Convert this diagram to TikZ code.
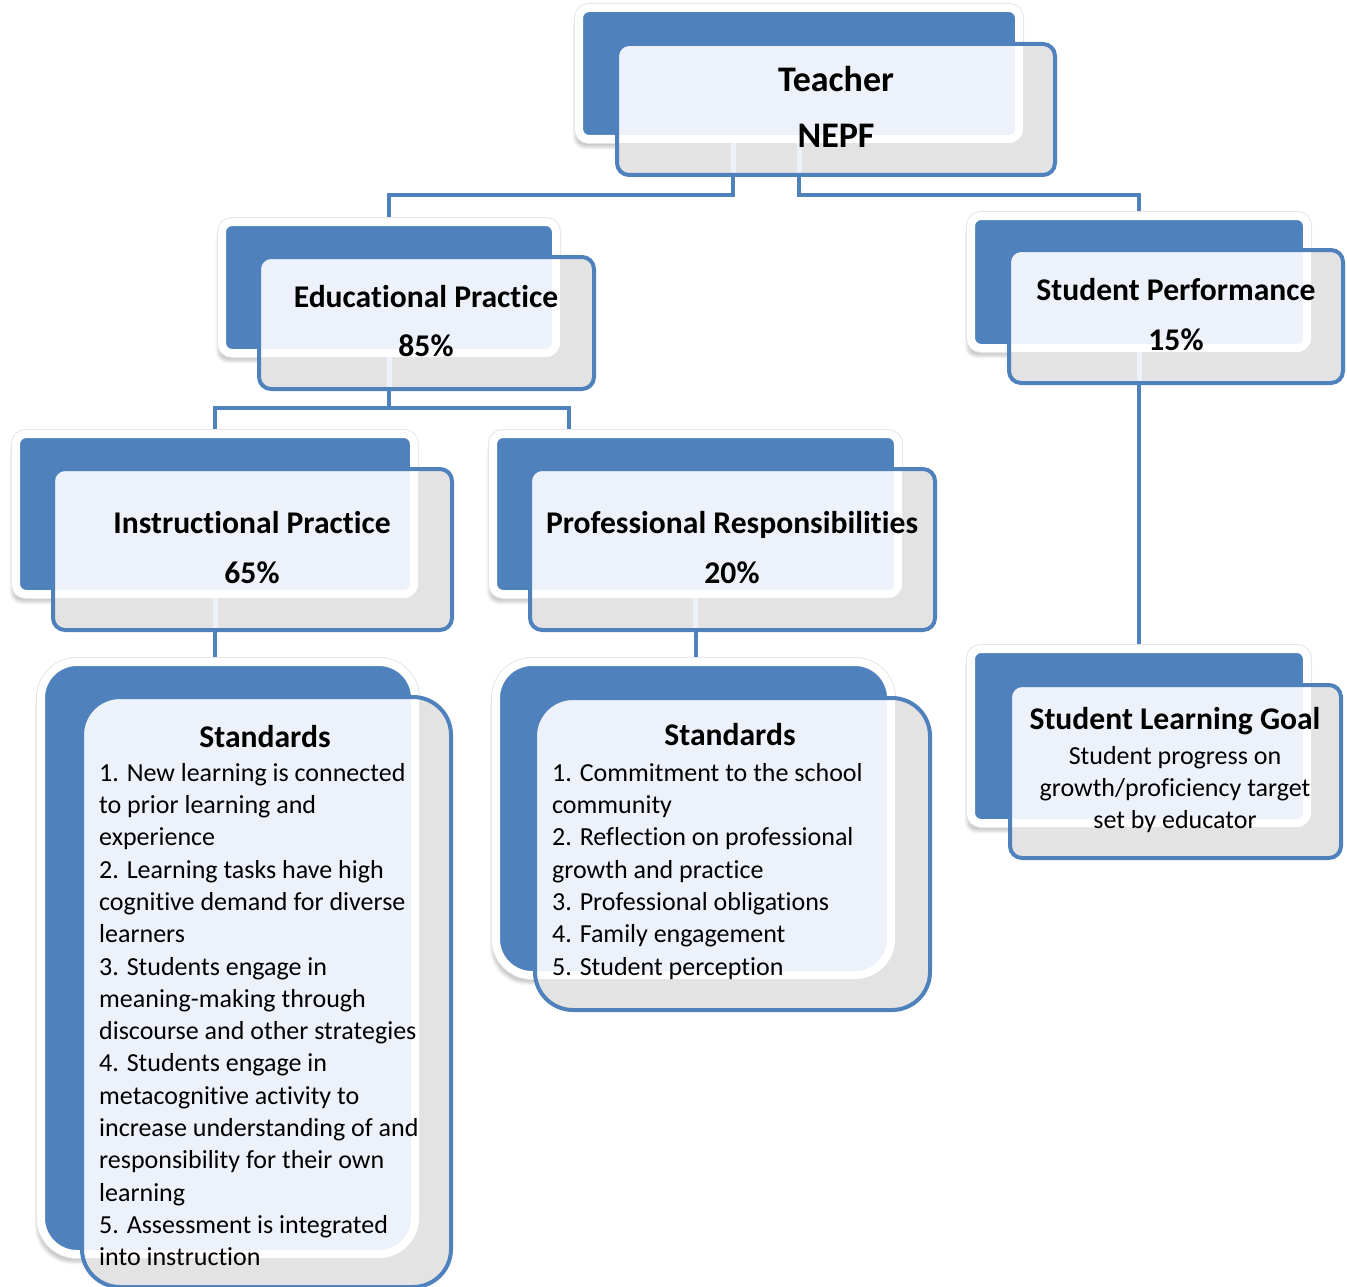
\documentclass[tikz,border=0pt]{standalone}
\usepackage{fontspec}
\setmainfont{Carlito}[Ligatures={NoCommon}]
\usetikzlibrary{shadows,shadows.blur,fit,calc}
\definecolor{nblue}{HTML}{4F81BD}
\definecolor{ngray}{HTML}{E3E3E3}
\definecolor{nlight}{HTML}{EDF1F9}
\pgfdeclarelayer{bg}
\pgfsetlayers{bg,main}
\tikzset{
 backbox/.style={fill=nblue, inner sep=0pt, outer sep=0pt,
   blur shadow={shadow xshift=-4pt, shadow yshift=-8pt, shadow blur radius=3pt, shadow opacity=22},
   preaction={draw=black!10, line width=10pt},
   draw=white, line width=8pt},
 frontfill/.style={fill=ngray, inner sep=0pt, outer sep=0pt},
 frontline/.style={draw=nblue, line width=4pt},
 conn/.style={draw=nblue, line width=4pt},
 ghost/.style={draw=nlight, line width=5pt},
 ttl/.style={font=\fontsize{31.6}{38}\selectfont\bfseries, anchor=base, inner sep=0pt},
 bigttl/.style={font=\fontsize{36}{42}\selectfont\bfseries, anchor=base, inner sep=0pt},
 bodytxt/.style={font=\fontsize{26}{32.3}\selectfont, align=left, anchor=north west, inner sep=0pt},
 bodyctr/.style={font=\fontsize{26}{32.3}\selectfont, align=center, anchor=north, inner sep=0pt},
}
\def\rb{10}
\def\rf{12}
% #1 name, #2-#5 back centre line, #6-#9 front centre line
\newcommand\twobox[9]{%
 \node[backbox, rounded corners=\rb pt, fit={(#2,#3) (#4,#5)}] (#1B) {};
 \node[frontfill, rounded corners=\rf pt, fit={(#6,#7) (#8,#9)}] (#1F) {};
 \begin{scope}
  \clip[rounded corners=\rf pt] (#6,#7) rectangle (#8,#9);
  \fill[white, rounded corners=\rb pt+4pt] (#2-4,#3-4) rectangle (#4+4,#5+4);
  \fill[nlight, rounded corners=\rb pt-4pt] (#2+4,#3+4) rectangle (#4-4,#5-4);
 \end{scope}
}
\newcommand\frontborder[4]{%
 \draw[frontline, rounded corners=\rf pt] (#1,#2) rectangle (#3,#4);
}
\begin{document}
\begin{tikzpicture}[x=1pt,y=-1pt]
\useasboundingbox (0,0) rectangle (1347,1287);

% small boxes
\twobox{t}{579}{8}{1019}{139}{617}{44}{1055}{175}
\twobox{e}{222}{222}{556}{353}{259}{257}{594}{389}
\twobox{s}{971}{216}{1307}{348}{1009}{250}{1343}{383}
\twobox{i}{16}{434}{414}{594}{53}{469}{452}{630}
\twobox{p}{493}{434}{898}{594}{530}{469}{935}{630}
\twobox{g}{971}{649}{1307}{823}{1010}{685}{1341}{858}
% standards boxes
\def\rb{36}\def\rf{38}
\twobox{sl}{41}{662}{415}{1254}{82}{697}{451}{1287}
\twobox{sm}{496}{662}{891}{975}{535}{698}{930}{1010}

% connectors
\coordinate (tl) at (733,139);
\coordinate (pr) at (569,434);
\begin{pgfonlayer}{bg}
\draw[conn] (tl) -- ++(0,56) -| (eB.north);
\draw[conn] (tB.south) -- ++(0,56) -| (sB.north);
\draw[conn] (eB.south) -- ++(0,55) -| (iB.north);
\draw[conn] (eB.south) -- ++(0,55) -| (pr);
\draw[conn] (iB.south) -- (iB.south |- slB.north);
\draw[conn] (pB.south) -- (pB.south |- smB.north);
\draw[conn] (sB.south) -- (sB.south |- gB.north);
\end{pgfonlayer}

% connectors seen through the front boxes
\draw[ghost] ([yshift=-4pt]tl) -- ([yshift=2pt]tl |- tF.south);
\draw[ghost] ([yshift=-4pt]tB.south) -- ([yshift=2pt]tB.south |- tF.south);
\draw[ghost] ([yshift=-4pt]eB.south) -- ([yshift=2pt]eB.south |- eF.south);
\draw[ghost] ([yshift=-4pt]sB.south) -- ([yshift=2pt]sB.south |- sF.south);
\draw[ghost] ([yshift=-4pt]iB.south) -- ([yshift=2pt]iB.south |- iF.south);
\draw[ghost] ([yshift=-4pt]pB.south) -- ([yshift=2pt]pB.south |- pF.south);

% front borders
\def\rf{12}
\frontborder{617}{44}{1055}{175}
\frontborder{259}{257}{594}{389}
\frontborder{1009}{250}{1343}{383}
\frontborder{53}{469}{452}{630}
\frontborder{530}{469}{935}{630}
\frontborder{1010}{685}{1341}{858}
\def\rf{38}
\frontborder{82}{697}{451}{1287}
\frontborder{535}{698}{930}{1010}

% texts
\node[bigttl] (t1) at (836,92) {Teacher};
\node[bigttl] (t2) at (836,148) {NEPF};
\node[ttl] (e1) at (426,307) {Educational Practice};
\node[ttl] (e2) at (426,356) {85\%};
\node[ttl] (s1) at (1176,300) {Student Performance};
\node[ttl] (s2) at (1176,350) {15\%};
\node[ttl] (i1) at (252,533) {Instructional Practice};
\node[ttl] (i2) at (252,583) {65\%};
\node[ttl] (p1) at (732,533) {Professional Responsibilities};
\node[ttl] (p2) at (732,583) {20\%};
\node[ttl] (sl1) at (265,747) {Standards};
\node[bodytxt] (sl2) at (99,761) {\rule{0pt}{20pt}1. New learning is connected\\
to prior learning and\\
experience\\
2. Learning tasks have high\\
cognitive demand for diverse\\
learners\\
3. Students engage in\\
meaning-making through\\
discourse and other strategies\\
4. Students engage in\\
metacognitive activity to\\
increase understanding of and\\
responsibility for their own\\
learning\\
5. Assessment is integrated\\
into instruction};
\node[ttl] (sm1) at (730,745) {Standards};
\node[bodytxt] (sm2) at (552,761) {\rule{0pt}{20pt}1. Commitment to the school\\
community\\
2. Reflection on professional\\
growth and practice\\
3. Professional obligations\\
4. Family engagement\\
5. Student perception};
\node[ttl] (g1) at (1175,729) {Student Learning Goal};
\node[bodyctr] (g2) at (1175,744) {\rule{0pt}{20pt}Student progress on\\
growth/proficiency target\\
set by educator};
\end{tikzpicture}
\end{document}
